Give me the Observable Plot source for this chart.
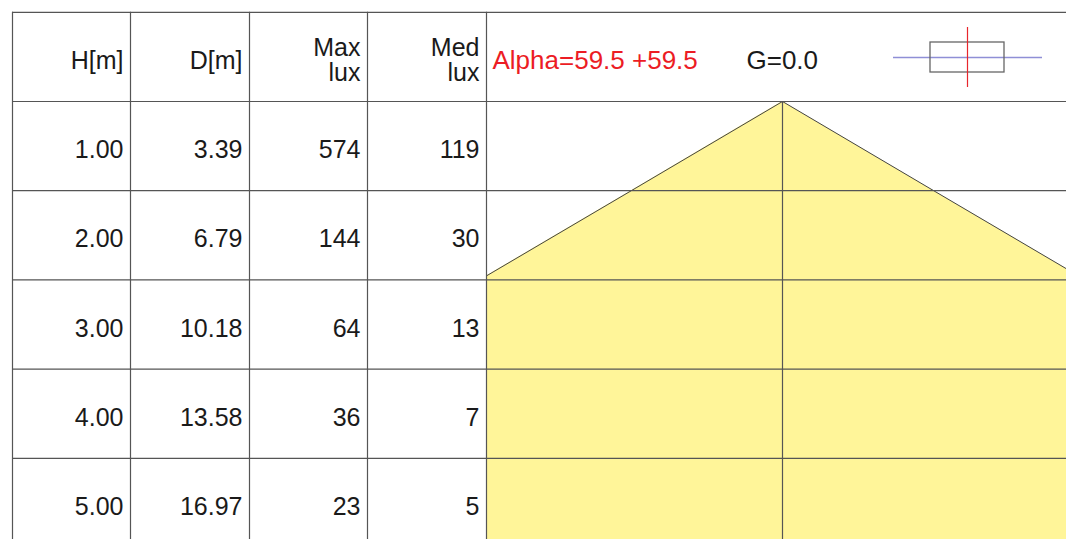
<!DOCTYPE html>
<html><head><meta charset="utf-8">
<script src="https://cdn.jsdelivr.net/npm/d3@7"></script>
<script src="https://cdn.jsdelivr.net/npm/@observablehq/plot@0.6"></script>
<style>html,body{margin:0;padding:0;background:#fff;overflow:hidden;}</style>
</head><body><div id="chart"></div>
<script>
// ---- data ----
const heights = [1, 2, 3, 4, 5];
const diameters = [3.39, 6.79, 10.18, 13.58, 16.97];
const maxLux = [574, 144, 64, 36, 23];
const medLux = [119, 30, 13, 7, 5];
const headers = ["H[m]", "D[m]", "Max\nlux", "Med\nlux"];
const alphaLabel = "Alpha=59.5 +59.5";
const gammaLabel = "G=0.0";

// ---- layout (pixels) ----
const W = 1066, Hpx = 539;
const K = 89.2;          // pixels per metre
const CX = 782;          // pixel x of beam axis
const TOP = 101;         // pixel y of H = 0
const colBorders = [12, 130, 249, 367, 486];
const X = px => (px - CX) / K;
const Y = py => (py - TOP) / K;
const yBottom = Y(Hpx + 20);

const heightLabels = heights.map(h => h.toFixed(2));
const diameterLabels = diameters.map(d => d.toFixed(2));

const cone = [{h: 0, half: 0}, ...heights.map((h, i) => ({h, half: diameters[i] / 2}))];

const cells = [];
heights.forEach((h, i) => {
  [heightLabels[i], diameterLabels[i], String(maxLux[i]), String(medLux[i])].forEach((t, c) => {
    cells.push({x: X(colBorders[c + 1]), y: h - 0.5, t});
  });
});
const headerCells = headers.map((t, c) => ({x: X(colBorders[c + 1]), y: -0.5, t}));

const gridColor = "#555";
const font = "'Liberation Sans', Arial, Helvetica, sans-serif";

const chart = Plot.plot({
  width: W, height: Hpx,
  margin: 0,
  style: {fontFamily: font, background: "#fff"},
  x: {domain: [X(0), X(W)], range: [0, W], axis: null},
  y: {domain: [Y(0), Y(Hpx)], range: [0, Hpx], axis: null},
  marks: [
    Plot.areaX(cone, {y: "h", x1: d => -d.half, x2: d => d.half, fill: "#fff599"}),
    Plot.line(cone, {x: d => -d.half, y: "h", stroke: "#444", strokeWidth: 1}),
    Plot.line(cone, {x: d => d.half, y: "h", stroke: "#444", strokeWidth: 1}),
    // white table area masking the beam
    Plot.rect([0], {x1: X(0), x2: X(colBorders[4]), y1: Y(0), y2: yBottom, fill: "#fff"}),
    // grid
    Plot.ruleY([-1, 0, ...heights], {x1: X(colBorders[0]), x2: X(W + 20), stroke: gridColor, strokeWidth: 1.2}),
    Plot.ruleX(colBorders.map(X), {y1: -1, y2: yBottom, stroke: gridColor, strokeWidth: 1.2}),
    Plot.ruleX([0], {y1: 0, y2: yBottom, stroke: gridColor, strokeWidth: 1.2}),
    // table text
    Plot.text(headerCells, {x: "x", y: "y", text: "t", textAnchor: "end", dx: -7, dy: 4, fontSize: 25, lineHeight: 1, fill: "#1a1a1a"}),
    Plot.text(cells, {x: "x", y: "y", text: "t", textAnchor: "end", dx: -7, dy: 4, fontSize: 25, fill: "#1a1a1a"}),
    // panel header
    Plot.text([alphaLabel], {x: X(colBorders[4]), y: -0.5, text: d => d, textAnchor: "start", dx: 6, dy: 4, fontSize: 26, fill: "#ec1c24"}),
    Plot.text([gammaLabel], {x: X(746), y: -0.5, text: d => d, textAnchor: "start", dy: 4, fontSize: 26, fill: "#1a1a1a"}),
    // icon
    Plot.ruleY([Y(57)], {x1: X(893), x2: X(1042), stroke: "#8f8fd6", strokeWidth: 1.5}),
    Plot.rect([0], {x1: X(930), x2: X(1004), y1: Y(42), y2: Y(72), fill: "none", stroke: "#666", strokeWidth: 1.3}),
    Plot.ruleX([X(967)], {y1: Y(27), y2: Y(87), stroke: "#e8262c", strokeWidth: 1.2})
  ]
});
document.getElementById("chart").appendChild(chart);
</script>
</body></html>
